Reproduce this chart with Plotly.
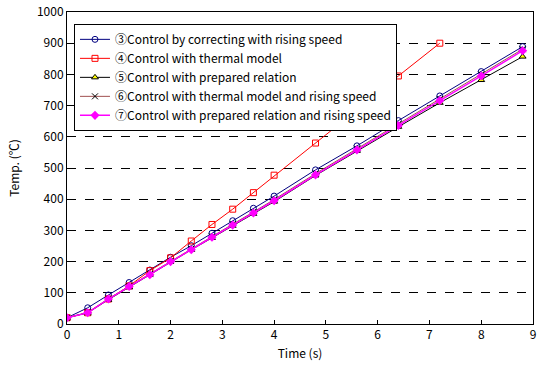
import plotly.graph_objects as go

time = [0, 0.4, 0.8, 1.2, 1.6, 2.0, 2.4, 2.8, 3.2, 3.6, 4.0, 4.8, 5.6, 6.4, 7.2, 8.0, 8.8]
time_thermal = [0, 0.4, 0.8, 1.2, 1.6, 2.0, 2.4, 2.8, 3.2, 3.6, 4.0, 4.8, 5.6, 6.4, 7.2]

s3 = [20, 52, 93, 133, 173, 214, 251, 291, 331, 371, 410, 494, 571, 652, 731, 809, 889]
s4 = [20, 36, 80, 122, 171, 212, 266, 319, 368, 421, 477, 580, 686, 795, 900]
s5 = [20, 36, 78, 118, 158, 200, 238, 276, 315, 353, 392, 476, 555, 632, 709, 782, 857]
s6 = [20, 37, 81, 121, 160, 202, 241, 281, 320, 359, 399, 482, 562, 641, 721, 800, 881]
s7 = [20, 36, 80, 120, 158, 200, 238, 278, 317, 356, 395, 478, 558, 636, 716, 795, 876]

names = [
    "③Control by correcting with rising speed",
    "④Control with thermal model",
    "⑤Control with prepared relation",
    "⑥Control with thermal model and rising speed",
    "⑦Control with prepared relation and rising speed",
]

font = "Noto Sans CJK JP, MS PGothic, sans-serif"

fig = go.Figure()
fig.add_trace(go.Scatter(x=time, y=s3, name=names[0], mode="lines+markers",
                         line=dict(color="#000080", width=1),
                         marker=dict(symbol="circle-open", size=6, color="#000080", line=dict(width=1))))
fig.add_trace(go.Scatter(x=time_thermal, y=s4, name=names[1], mode="lines+markers",
                         line=dict(color="#FF0000", width=1),
                         marker=dict(symbol="square-open", size=6, color="#FF0000", line=dict(width=1))))
fig.add_trace(go.Scatter(x=time, y=s5, name=names[2], mode="lines+markers",
                         line=dict(color="#000000", width=1),
                         marker=dict(symbol="triangle-up", size=6, color="#FFFF00", line=dict(width=1, color="#000000"))))
fig.add_trace(go.Scatter(x=time, y=s6, name=names[3], mode="lines+markers",
                         line=dict(color="#A05050", width=1),
                         marker=dict(symbol="x-thin-open", size=6, color="#000000", line=dict(width=1, color="#000000"))))
fig.add_trace(go.Scatter(x=time, y=s7, name=names[4], mode="lines+markers",
                         line=dict(color="#FF00FF", width=1.5),
                         marker=dict(symbol="diamond", size=7, color="#FF00FF")))

fig.update_layout(
    width=537, height=372,
    margin=dict(l=67, r=1, t=12, b=48),
    paper_bgcolor="white", plot_bgcolor="white",
    font=dict(family=font, size=12, color="black"),
    showlegend=True,
    legend=dict(x=0.015, y=0.962, xanchor="left", yanchor="top",
                bgcolor="white", bordercolor="black", borderwidth=1,
                font=dict(family=font, size=12), tracegroupgap=0),
    xaxis=dict(range=[0, 9], dtick=1, tick0=0, showgrid=False, zeroline=False,
               showline=True, linecolor="black", linewidth=1, mirror=True,
               ticks="inside", ticklen=4, tickcolor="black",
               ticklabeloverflow="allow",
               title=dict(text="Time (s)", font=dict(size=12), standoff=8)),
    yaxis=dict(range=[0, 1000], dtick=100, tick0=0, showgrid=True, gridcolor="black",
               griddash="dash", gridwidth=1, zeroline=False,
               showline=True, linecolor="black", linewidth=1, mirror=True,
               ticks="inside", ticklen=4, tickcolor="black",
               title=dict(text="Temp. (℃)", font=dict(size=12), standoff=14)),
)

fig.write_html("out.html")
